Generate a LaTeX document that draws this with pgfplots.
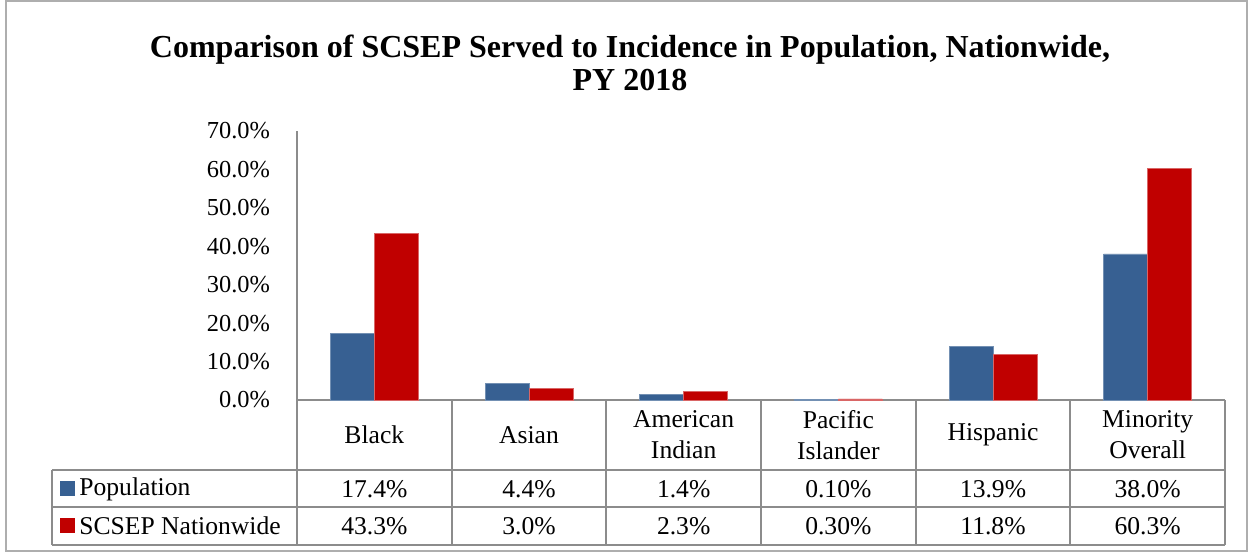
\documentclass[border=0pt]{standalone}
\usepackage{pgfplots}
\pgfplotsset{compat=1.18}
\usepackage{fontspec}
\setmainfont{Liberation Serif}
\definecolor{popblue}{HTML}{376092}
\definecolor{scred}{HTML}{C00000}
\definecolor{gridg}{HTML}{8C8C8C}
\begin{document}
\begin{tikzpicture}
\begin{scope}[x=0.5pt,y=-0.5pt]
\path[use as bounding box] (0,0) rectangle (1253,555);
\draw[gridg!70, line width=0.8pt] (6,1) rectangle (1247,551);
% title
\node[font=\fontsize{16}{16.5}\selectfont\bfseries, align=center] at (630,63)
  {Comparison of SCSEP Served to Incidence in Population, Nationwide,\\PY 2018};
% table lines
\begin{scope}[gridg, line width=1pt]
\draw (297,400) -- (1225,400);
\draw (52,470) -- (1225,470);
\draw (52,507) -- (1225,507);
\draw (52,545) -- (1225,545);
\draw (52,470) -- (52,545);
\foreach \i in {0,...,6} { \draw ({297+\i*154.67},400) -- ({297+\i*154.67},545); }
\end{scope}
% category labels
\begin{scope}[font=\fontsize{12.8}{15.5}\selectfont, align=center]
\node at ({297+0.5*154.67},435) {Black};
\node at ({297+1.5*154.67},435) {Asian};
\node at ({297+2.5*154.67},435) {American\\Indian};
\node at ({297+3.5*154.67},435) {Pacific\\Islander};
\node at ({297+4.5*154.67},435) {Hispanic};
\node at ({297+5.5*154.67},435) {Minority\\Overall};
% values
\foreach \v [count=\i from 0] in {17.4\%,4.4\%,1.4\%,0.10\%,13.9\%,38.0\%}
  { \node at ({297+(\i+0.5)*154.67},489) {\v}; }
\foreach \v [count=\i from 0] in {43.3\%,3.0\%,2.3\%,0.30\%,11.8\%,60.3\%}
  { \node at ({297+(\i+0.5)*154.67},526) {\v}; }
% legend
\fill[popblue] (60,481) rectangle (75,496);
\node[anchor=west, inner sep=0pt] at (79,489) {Population};
\fill[scred] (60,518) rectangle (75,533);
\node[anchor=west, inner sep=0pt] at (79,526) {SCSEP Nationwide};
\end{scope}
\end{scope}
\begin{axis}[
  at={(148.5pt,-200pt)}, anchor=south west,
  scale only axis, width=464pt, height=134.5pt,
  xmin=-0.5, xmax=5.5, ymin=0, ymax=70,
  axis x line=none,
  axis y line=left,
  y axis line style={-, draw=gridg, line width=1pt},
  xtick=\empty,
  ytick={0,10,...,70},
  major tick length=0pt,
  ylabel={},
  clip=false,
  yticklabel={\pgfmathprintnumber[fixed,fixed zerofill,precision=1]{\tick}\%},
  yticklabel style={font=\fontsize{12.2}{14}\selectfont, xshift=-10pt, /pgf/number format/assume math mode=true},
  ybar=0pt, bar width=22pt,
]
\addplot[fill=popblue, draw=popblue!70!white, line width=0.3pt] coordinates {(0,17.4) (1,4.4) (2,1.4) (3,0.1) (4,13.9) (5,38.0)};
\addplot[fill=scred, draw=scred!60!white, line width=0.3pt] coordinates {(0,43.3) (1,3.0) (2,2.3) (3,0.3) (4,11.8) (5,60.3)};
\end{axis}
\end{tikzpicture}
\end{document}
